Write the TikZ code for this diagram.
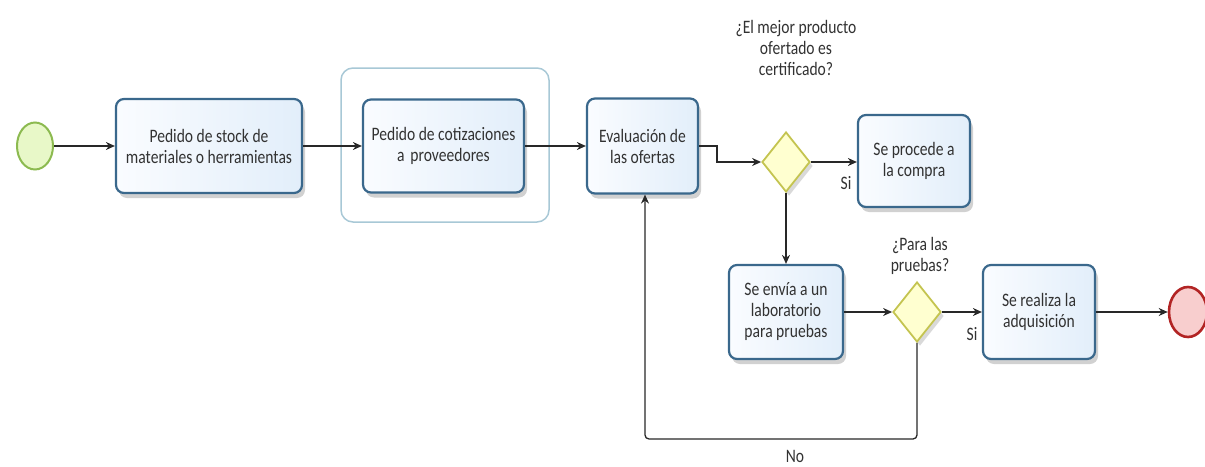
\documentclass[tikz,border=0pt]{standalone}
\usepackage{fontspec}
\setmainfont{Carlito}[FakeStretch=0.82]
\usetikzlibrary{shapes.geometric,arrows.meta,shadows,calc}
\definecolor{taskborder}{RGB}{58,104,140}
\definecolor{taskfillA}{RGB}{250,252,255}
\definecolor{taskfillB}{RGB}{226,238,250}
\definecolor{groupborder}{RGB}{168,200,214}
\definecolor{gateborder}{RGB}{196,196,80}
\definecolor{gatefill}{RGB}{255,255,208}
\definecolor{startborder}{RGB}{140,186,80}
\definecolor{startfill}{RGB}{232,248,200}
\definecolor{endborder}{RGB}{178,36,36}
\definecolor{endfill}{RGB}{248,206,206}
\definecolor{flowcol}{RGB}{40,40,40}
\definecolor{textcol}{RGB}{50,50,50}
\tikzset{
  txt/.style={font=\fontsize{19}{21}\selectfont, text=textcol, align=center},
  task/.style={txt, rectangle, rounded corners=8pt, draw=taskborder, line width=2.2pt,
    left color=taskfillA, right color=taskfillB, inner sep=0pt,
    drop shadow={shadow xshift=3pt, shadow yshift=-5pt, opacity=0.18, fill=black}},
  gate/.style={diamond, draw=gateborder, fill=gatefill, line width=1.8pt, inner sep=0pt,
    minimum width=48pt, minimum height=60pt,
    drop shadow={shadow xshift=3pt, shadow yshift=-4pt, opacity=0.15, fill=black}},
  groupbox/.style={rectangle, rounded corners=12pt, draw=groupborder, line width=1.5pt,
    minimum width=208pt, minimum height=154pt},
  flow/.style={draw=flowcol, line width=1.3pt, -{Stealth[length=9pt,width=8pt]}},
  lbl/.style={txt, inner sep=0pt}
}
\begin{document}
\begin{tikzpicture}[x=1pt,y=-1pt]
\useasboundingbox (0,0) rectangle (1205,466);
% group
\node[groupbox] (grp) at (445,145) {};
% events
\node[ellipse, draw=startborder, fill=startfill, line width=2pt, minimum width=36pt, minimum height=47pt] (start) at (35,146) {};
\node[ellipse, draw=endborder, fill=endfill, line width=2.6pt, minimum width=38pt, minimum height=50pt] (end) at (1188,312) {};
% tasks
\node[task, minimum width=186pt, minimum height=94pt] (b1) at (209,146) {Pedido de stock de\\materiales o herramientas};
\node[task, minimum width=161pt, minimum height=93pt] (b2) at (443.5,146) {Pedido de cotizaciones\\a\hspace{0.12em} proveedores};
\node[task, minimum width=111pt, minimum height=95pt] (b3) at (642.5,146) {Evaluación de\\las ofertas};
\node[task, minimum width=112pt, minimum height=92pt] (b4) at (914,161) {Se procede a\\la compra};
\node[task, minimum width=114pt, minimum height=94pt] (b5) at (786,312) {Se envía a un\\laboratorio\\para pruebas};
\node[task, minimum width=112pt, minimum height=94pt] (b6) at (1039,312) {Se realiza la\\adquisición};
% gateways
\node[gate] (d1) at (786,162) {};
\node[gate] (d2) at (917,312) {};
% labels
\node[lbl] (q1) at (796,48) {¿El mejor producto\\ofertado es\\certificado?};
\node[lbl] (q2) at (920,256) {¿Para las\\pruebas?};
\node[lbl] (si1) at (846,183) {Si};
\node[lbl] (si2) at (972,334) {Si};
\node[lbl] (no) at (795,456) {No};
% flows
\draw[flow] (start.east) -- (start.east -| b1.west);
\draw[flow] (b1.east) -- (b1.east -| b2.west);
\draw[flow] (b2.east) -- (b2.east -| b3.west);
\coordinate (k1) at (717,146);
\draw[flow] (b3.east) -- (k1) |- (d1.west);
\draw[flow] (d1.east) -- (d1.east -| b4.west);
\draw[flow] (d1.south) -- (b5.north);
\draw[flow] (b5.east) -- (d2.west);
\draw[flow] (d2.east) -- (d2.east -| b6.west);
\draw[flow] (b6.east) -- (b6.east -| end.west);
\coordinate (k2) at (645,439);
\draw[flow, rounded corners=4pt] (d2.south) |- (k2) -- (k2 |- b3.south);
\end{tikzpicture}
\end{document}
